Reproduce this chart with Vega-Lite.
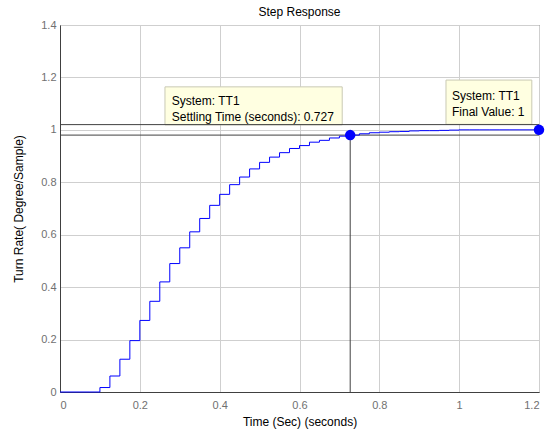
{
  "$schema": "https://vega.github.io/schema/vega-lite/v6.json",
  "width": 479,
  "height": 367,
  "autosize": {"type": "none"},
  "padding": {"left": 60, "top": 25, "right": 13, "bottom": 40},
  "background": "white",
  "title": {"text": "Step Response", "fontSize": 12, "font": "Liberation Sans", "fontWeight": "normal", "color": "#000000", "offset": 0},
  "config": {
    "font": "Liberation Sans",
    "view": {"stroke": "#404040", "strokeWidth": 1},
    "axis": {
      "labelFont": "Liberation Sans", "labelFontSize": 11, "labelColor": "#707070",
      "titleFont": "Liberation Sans", "titleFontSize": 12, "titleFontWeight": "normal", "titleColor": "#000000",
      "domainColor": "#404040", "gridColor": "#cfcfcf", "gridWidth": 1,
      "tickColor": "#404040"
    }
  },
  "datasets": {
    "step": [
      {"t": 0, "y": 0}, {"t": 0.025, "y": 0}, {"t": 0.05, "y": 0}, {"t": 0.075, "y": 0},
      {"t": 0.1, "y": 0.017}, {"t": 0.125, "y": 0.061}, {"t": 0.15, "y": 0.125}, {"t": 0.175, "y": 0.196},
      {"t": 0.2, "y": 0.273}, {"t": 0.225, "y": 0.346}, {"t": 0.25, "y": 0.42}, {"t": 0.275, "y": 0.49},
      {"t": 0.3, "y": 0.55}, {"t": 0.325, "y": 0.611}, {"t": 0.35, "y": 0.662}, {"t": 0.375, "y": 0.712},
      {"t": 0.4, "y": 0.754}, {"t": 0.425, "y": 0.791}, {"t": 0.45, "y": 0.82}, {"t": 0.475, "y": 0.851},
      {"t": 0.5, "y": 0.876}, {"t": 0.525, "y": 0.896}, {"t": 0.55, "y": 0.913}, {"t": 0.575, "y": 0.929},
      {"t": 0.6, "y": 0.94}, {"t": 0.625, "y": 0.953}, {"t": 0.65, "y": 0.96}, {"t": 0.675, "y": 0.969},
      {"t": 0.7, "y": 0.976}, {"t": 0.725, "y": 0.98}, {"t": 0.75, "y": 0.985}, {"t": 0.775, "y": 0.989},
      {"t": 0.8, "y": 0.991}, {"t": 0.825, "y": 0.993}, {"t": 0.85, "y": 0.994}, {"t": 0.875, "y": 0.996},
      {"t": 0.9, "y": 0.997}, {"t": 0.925, "y": 0.997}, {"t": 0.95, "y": 0.998}, {"t": 0.975, "y": 0.999},
      {"t": 1.0, "y": 1.0}, {"t": 1.025, "y": 1.0}, {"t": 1.05, "y": 1.0}, {"t": 1.075, "y": 1.0},
      {"t": 1.1, "y": 1.0}, {"t": 1.125, "y": 1.0}, {"t": 1.15, "y": 1.0}, {"t": 1.175, "y": 1.0},
      {"t": 1.2, "y": 1.0}
    ],
    "markers": [
      {"t": 0.727, "y": 0.98},
      {"t": 1.2, "y": 1.0}
    ],
    "bands": [{"y": 1.02}, {"y": 0.98}],
    "settle": [{"t": 0.727, "y0": 0, "y1": 0.98}],
    "boxes": [
      {"x1": 0.263, "x2": 0.707, "y1": 1.019, "y2": 1.164},
      {"x1": 0.967, "x2": 1.182, "y1": 1.021, "y2": 1.19}
    ],
    "labels": [
      {"x": 0.28, "y": 1.11, "label": "System: TT1"},
      {"x": 0.28, "y": 1.049, "label": "Settling Time (seconds): 0.727"},
      {"x": 0.982, "y": 1.13, "label": "System: TT1"},
      {"x": 0.982, "y": 1.069, "label": "Final Value: 1"}
    ]
  },
  "layer": [
    {
      "data": {"name": "boxes"},
      "mark": {"type": "rect", "fill": "#ffffe1", "stroke": "#c9c9b4", "strokeWidth": 1},
      "encoding": {
        "x": {"field": "x1", "type": "quantitative", "scale": {"domain": [0, 1.2], "nice": false},
              "axis": {"title": "Time (Sec) (seconds)", "values": [0, 0.2, 0.4, 0.6, 0.8, 1, 1.2], "format": "~g", "grid": true, "ticks": false, "labelPadding": 7, "titlePadding": 6}},
        "x2": {"field": "x2"},
        "y": {"field": "y1", "type": "quantitative", "scale": {"domain": [0, 1.4], "nice": false},
              "axis": {"title": "Turn Rate( Degree/Sample)", "values": [0, 0.2, 0.4, 0.6, 0.8, 1, 1.2, 1.4], "format": "~g", "grid": true, "ticks": false, "labelPadding": 4, "titlePadding": 15}},
        "y2": {"field": "y2"}
      }
    },
    {
      "data": {"name": "bands"},
      "mark": {"type": "rule", "color": "#404040", "strokeWidth": 1},
      "encoding": {"y": {"field": "y", "type": "quantitative"}}
    },
    {
      "data": {"name": "settle"},
      "mark": {"type": "rule", "color": "#404040", "strokeWidth": 1},
      "encoding": {
        "x": {"field": "t", "type": "quantitative"},
        "y": {"field": "y0", "type": "quantitative"},
        "y2": {"field": "y1"}
      }
    },
    {
      "data": {"name": "step"},
      "mark": {"type": "line", "interpolate": "step-after", "color": "#0000ff", "strokeWidth": 1},
      "encoding": {
        "x": {"field": "t", "type": "quantitative"},
        "y": {"field": "y", "type": "quantitative"}
      }
    },
    {
      "data": {"name": "markers"},
      "mark": {"type": "point", "filled": true, "color": "#0000ff", "size": 110, "opacity": 1},
      "encoding": {
        "x": {"field": "t", "type": "quantitative"},
        "y": {"field": "y", "type": "quantitative"}
      }
    },
    {
      "data": {"name": "labels"},
      "mark": {"type": "text", "align": "left", "baseline": "middle", "fontSize": 12, "font": "Liberation Sans", "color": "#000000"},
      "encoding": {
        "x": {"field": "x", "type": "quantitative"},
        "y": {"field": "y", "type": "quantitative"},
        "text": {"field": "label"}
      }
    }
  ]
}
